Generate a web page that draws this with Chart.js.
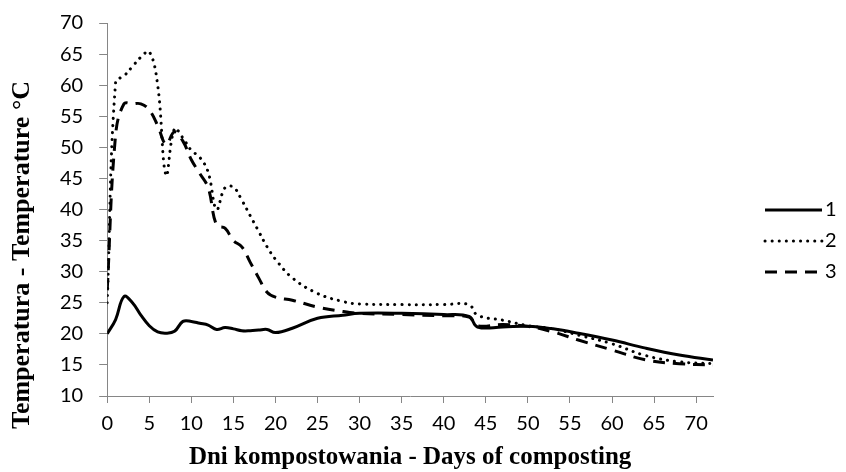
<!DOCTYPE html>
<html>
<head>
<meta charset="utf-8">
<script src="https://cdn.jsdelivr.net/npm/chart.js@4.4.1/dist/chart.umd.min.js"></script>
<style>
  html, body { margin: 0; padding: 0; background: #fff; }
  #wrap { width: 846px; height: 472px; position: relative; }
</style>
</head>
<body>
<div id="wrap"><canvas id="chart"></canvas></div>
<script>
// Dni kompostowania (oś X)
const days = [0,1,2,3,4,5,6,7,8,9,10,11,12,13,14,15,16,17,18,19,20,22,25,28,30,35,40,43,44,47,50,53,56,60,64,68,72];

// Seria 1 - linia ciągła
const temp1 = [20,22.3,26,25,23,21.3,20.3,20.1,20.4,22,22,21.7,21.4,20.7,21,20.8,20.5,20.5,20.6,20.7,20.2,20.9,22.5,23,23.3,23.3,23.1,22.8,21.1,21.1,21.2,20.8,20.1,19,17.7,16.6,15.8];
// Seria 2 - linia kropkowana
const temp2 = [25,60.5,61.5,63,64.5,65.4,60,45.5,53,51.5,49.5,48.4,46,40,43.5,43.6,41.5,39,36.5,34,32,29,26.5,25.2,24.8,24.7,24.7,24.7,23,22.2,21.3,20.8,19.8,18.4,16.5,15.5,15.2];
// Seria 3 - linia kreskowana
const temp3 = [27,52,57,57,57,56,53.5,50.5,52.5,51,48,45.8,43.5,37.5,37,35,34,31.5,29,26.7,25.9,25.4,24.3,23.6,23.3,23.1,22.9,22.7,21.3,21.5,21.2,20.3,19,17.4,15.8,15.2,15];

const seriesLabels = ['1', '2', '3'];
const xTicks = [0,5,10,15,20,25,30,35,40,45,50,55,60,65,70];
const yTicks = [10,15,20,25,30,35,40,45,50,55,60,65,70];

const axisColor = '#868686';
const tickFont = { family: 'Lato', size: 20 };

function points(vals) {
    return days.map((d, i) => ({ x: d, y: vals[i] }));
}

// Legenda rysowana ręcznie po prawej stronie
const legendPlugin = {
    id: 'sideLegend',
    afterDraw(chart) {
        const ctx = chart.ctx;
        chart.data.datasets.forEach((ds, i) => {
            const y = 210 + i * 31;
            ctx.save();
            ctx.strokeStyle = '#000';
            ctx.lineWidth = ds.borderWidth;
            ctx.lineCap = ds.borderCapStyle || 'butt';
            ctx.setLineDash(ds.borderDash || []);
            ctx.beginPath();
            ctx.moveTo(765, y);
            ctx.lineTo(822, y);
            ctx.stroke();
            ctx.setLineDash([]);
            ctx.fillStyle = '#000';
            ctx.font = '20px Lato';
            ctx.textBaseline = 'middle';
            ctx.fillText(ds.label, 825, y);
            ctx.restore();
        });
    }
};

// Tytuł osi Y (przesunięty w dół jak w oryginale)
const yTitlePlugin = {
    id: 'yTitle',
    afterDraw(chart) {
        const ctx = chart.ctx;
        ctx.save();
        ctx.translate(22, 255);
        ctx.rotate(-Math.PI / 2);
        ctx.fillStyle = '#000';
        ctx.font = 'bold 26px "Liberation Serif"';
        ctx.textAlign = 'center';
        ctx.textBaseline = 'middle';
        ctx.fillText('Temperatura - Temperature °C', 0, 0);
        ctx.restore();
    }
};

new Chart(document.getElementById('chart').getContext('2d'), {
    type: 'line',
    data: {
        datasets: [
            {
                label: seriesLabels[0],
                data: points(temp1),
                borderColor: '#000',
                borderWidth: 3,
                tension: 0.4,
                pointRadius: 0
            },
            {
                label: seriesLabels[1],
                data: points(temp2),
                borderColor: '#000',
                borderWidth: 3,
                borderDash: [0.1, 7],
                borderCapStyle: 'round',
                tension: 0.4,
                pointRadius: 0
            },
            {
                label: seriesLabels[2],
                data: points(temp3),
                borderColor: '#000',
                borderWidth: 3,
                borderDash: [12, 8],
                tension: 0.4,
                pointRadius: 0
            }
        ]
    },
    options: {
        responsive: true,
        maintainAspectRatio: false,
        animation: false,
        layout: {
            padding: { left: 44, right: 133, top: 8, bottom: 0 }
        },
        plugins: {
            legend: { display: false },
            tooltip: { enabled: false }
        },
        scales: {
            x: {
                type: 'linear',
                min: 0,
                max: 72,
                afterBuildTicks: axis => { axis.ticks = xTicks.map(v => ({ value: v })); },
                grid: {
                    display: true,
                    drawOnChartArea: false,
                    drawTicks: true,
                    tickLength: 7,
                    color: axisColor
                },
                border: { color: axisColor, width: 1 },
                ticks: {
                    color: '#000',
                    font: tickFont,
                    padding: 9,
                    maxRotation: 0
                },
                title: {
                    display: true,
                    text: 'Dni kompostowania - Days of composting',
                    color: '#000',
                    font: { family: 'Liberation Serif', size: 25, weight: 'bold', lineHeight: 1.0 },
                    padding: { top: 0, bottom: 2 }
                }
            },
            y: {
                min: 10,
                max: 70,
                afterBuildTicks: axis => { axis.ticks = yTicks.map(v => ({ value: v })); },
                afterFit: axis => { axis.paddingTop = 23; },
                grid: {
                    display: true,
                    drawOnChartArea: false,
                    drawTicks: true,
                    tickLength: 8,
                    color: axisColor
                },
                border: { color: axisColor, width: 1 },
                ticks: {
                    color: '#000',
                    font: tickFont,
                    padding: 16
                }
            }
        }
    },
    plugins: [legendPlugin, yTitlePlugin]
});
</script>
</body>
</html>
